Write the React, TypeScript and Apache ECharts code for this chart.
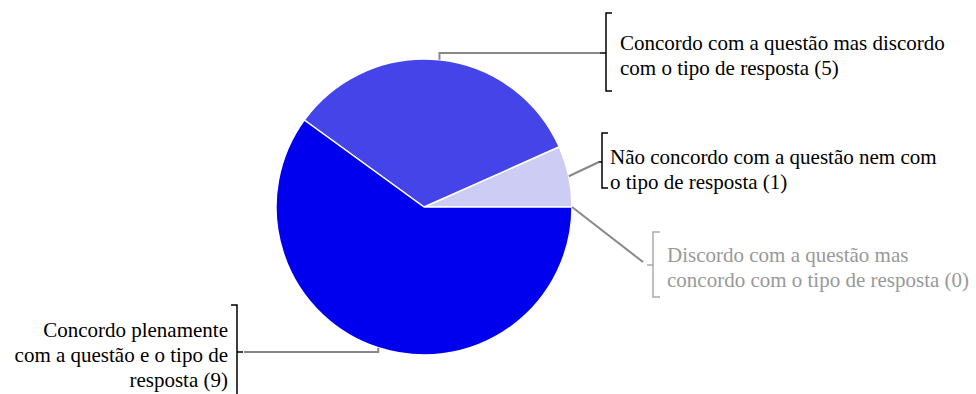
import React, { useEffect, useRef } from "react";
import * as echarts from "echarts";

const categories = [
  "Discordo com a questão mas concordo com o tipo de resposta",
  "Não concordo com a questão nem com o tipo de resposta",
  "Concordo com a questão mas discordo com o tipo de resposta",
  "Concordo plenamente com a questão e o tipo de resposta",
];
const values = [0, 1, 5, 9];
const labelTexts = [
  "Discordo com a questão mas\nconcordo com o tipo de resposta (0)",
  "Não concordo com a questão nem com\no tipo de resposta (1)",
  "Concordo com a questão mas discordo\ncom o tipo de resposta (5)",
  "Concordo plenamente\ncom a questão e o tipo de\nresposta (9)",
];
const colors = ["#aaaaaa", "#ccccf5", "#4444e8", "#0000ee"];
const textColors = ["#999999", "#000000", "#000000", "#000000"];

// layout constants
const CX = 424;
const CY = 207;
const R = 148;
const FONT_CSS = "21px 'Liberation Serif', serif";
const labelAnchors = [
  { x: 667, y: 267, align: "left" },
  { x: 610, y: 169, align: "left" },
  { x: 620, y: 55, align: "left" },
  { x: 228, y: 355, align: "right" },
];

function edgePoint(idx: number): [number, number] {
  const total = values.reduce((a, b) => a + b, 0);
  let before = 0;
  for (let i = 0; i < idx; i++) before += values[i];
  const mid = ((before + values[idx] / 2) / total) * 2 * Math.PI;
  return [CX + R * Math.cos(mid), CY - R * Math.sin(mid)];
}

export default function App() {
  const ref = useRef<HTMLDivElement>(null);
  useEffect(() => {
    if (!ref.current) return;
    const chart = echarts.init(ref.current, null, { renderer: "svg" });
    const e0 = edgePoint(0);
    const e1 = edgePoint(1);
    const e2 = edgePoint(2);
    const e3 = edgePoint(3);
    const lineStyle = { stroke: "#888888", lineWidth: 2, fill: null };
    const bStyle = { stroke: "#000000", lineWidth: 1.5, fill: null };
    const gStyle = { stroke: "#aaaaaa", lineWidth: 1.5, fill: null };
    const texts: any[] = labelTexts.map((t, i) => ({
      type: "text",
      id: "label" + i,
      x: labelAnchors[i].x,
      y: labelAnchors[i].y,
      style: {
        text: t,
        font: FONT_CSS,
        fontFamily: "Liberation Serif",
        fontSize: 21,
        lineHeight: 25,
        fill: textColors[i],
        align: labelAnchors[i].align,
        verticalAlign: "middle",
      },
    }));
    const lines: any[] = [
      // leader lines
      { type: "polyline", shape: { points: [e2, [e2[0], 53], [600, 53]] }, style: lineStyle, z: 10 },
      { type: "polyline", shape: { points: [e1, [599, 162]] }, style: lineStyle, z: 10 },
      { type: "polyline", shape: { points: [e0, [643, 262]] }, style: lineStyle, z: 10 },
      { type: "polyline", shape: { points: [e3, [e3[0], 352], [244, 352]] }, style: lineStyle, z: 10 },
      // brackets
      { type: "polyline", shape: { points: [[612, 13], [606, 13], [606, 91], [612, 91]] }, style: bStyle },
      { type: "line", shape: { x1: 600, y1: 53, x2: 606, y2: 53 }, style: bStyle },
      { type: "polyline", shape: { points: [[608, 133], [602, 133], [602, 188], [608, 188]] }, style: bStyle },
      { type: "line", shape: { x1: 598, y1: 162, x2: 602, y2: 162 }, style: bStyle },
      { type: "polyline", shape: { points: [[660, 232], [653, 232], [653, 297], [660, 297]] }, style: gStyle },
      { type: "line", shape: { x1: 647, y1: 265, x2: 653, y2: 265 }, style: gStyle },
      { type: "polyline", shape: { points: [[231, 305], [237, 305], [237, 394]] }, style: bStyle },
      { type: "line", shape: { x1: 237, y1: 352, x2: 243, y2: 352 }, style: bStyle },
    ];
    chart.setOption({
      animation: false,
      textStyle: { fontFamily: "Liberation Serif" },
      graphic: [...texts, ...lines],
      series: [
        {
          type: "pie",
          center: [CX, CY],
          radius: R,
          startAngle: 0,
          clockwise: false,
          itemStyle: { borderColor: "#ffffff", borderWidth: 1.5 },
          emphasis: { disabled: true },
          label: { show: false },
          labelLine: { show: false },
          data: categories.map((name, i) => ({
            name,
            value: values[i],
            itemStyle: { color: colors[i] },
          })),
        },
      ],
    });
    return () => chart.dispose();
  }, []);
  return (
    <div
      ref={ref}
      style={{ position: "absolute", left: 0, top: 0, width: 976, height: 394 }}
    />
  );
}
